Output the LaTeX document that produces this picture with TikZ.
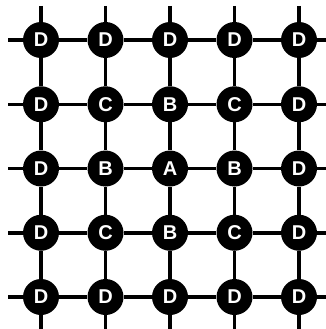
\documentclass[tikz,border=0pt]{standalone}
\usepackage{fontspec}
\setsansfont{Liberation Sans}
\tikzset{
  site/.style={circle,fill=black,text=white,inner sep=0pt,minimum size=36pt,font=\sffamily\bfseries\fontsize{20}{20}\selectfont},
  bond/.style={line width=3.5pt,draw=black},
}
\begin{document}
\begin{tikzpicture}[x=1pt,y=-1pt]
\useasboundingbox (0,0) rectangle (326,329);
% lattice sites
\foreach \row [count=\r] in {{D,D,D,D,D},{D,C,B,C,D},{D,B,A,B,D},{D,C,B,C,D},{D,D,D,D,D}} {
  \foreach \lab [count=\c] in \row {
    \node[site] (n-\r-\c) at ({41+64.5*(\c-1)},{40+64.25*(\r-1)}) {\lab};
  }
}
% free ends of the lattice lines
\foreach \k in {1,...,5} {
  \coordinate (w-\k) at (8,{40+64.25*(\k-1)});
  \coordinate (e-\k) at (326,{40+64.25*(\k-1)});
  \coordinate (t-\k) at ({41+64.5*(\k-1)},6);
  \coordinate (b-\k) at ({41+64.5*(\k-1)},329);
}
% bonds
\foreach \k in {1,...,5} {
  \draw[bond] (w-\k) -- (n-\k-1);
  \draw[bond] (n-\k-5) -- (e-\k);
  \draw[bond] (t-\k) -- (n-1-\k);
  \draw[bond] (n-5-\k) -- (b-\k);
  \foreach \j [evaluate=\j as \m using int(\j+1)] in {1,...,4} {
    \draw[bond] (n-\k-\j) -- (n-\k-\m);
    \draw[bond] (n-\j-\k) -- (n-\m-\k);
  }
}
\end{tikzpicture}
\end{document}
